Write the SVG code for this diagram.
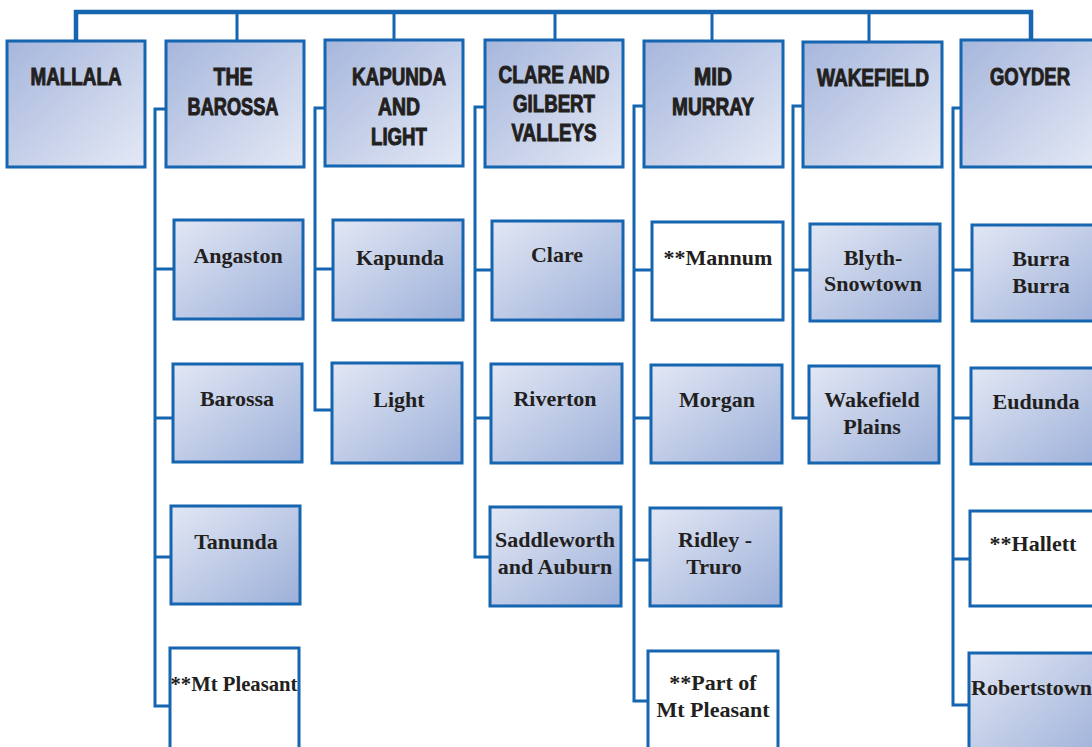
<svg xmlns="http://www.w3.org/2000/svg" width="1092" height="747" viewBox="0 0 1092 747">
<defs>
<linearGradient id="gh" x1="0" y1="0" x2="1" y2="1"><stop offset="0" stop-color="#a6b6dc"/><stop offset="1" stop-color="#e4e9f5"/></linearGradient>
<linearGradient id="gc" x1="0" y1="0" x2="1" y2="1"><stop offset="0" stop-color="#e2e7f4"/><stop offset="1" stop-color="#9db0d9"/></linearGradient>
<style>
.h{fill:url(#gh);stroke:#1565b0;stroke-width:3}
.c{fill:url(#gc);stroke:#1565b0;stroke-width:3}
.w{fill:#fff;stroke:#1565b0;stroke-width:3}
.ht{font-family:"Liberation Sans",Arial,sans-serif;font-weight:bold;font-size:24px;fill:#231f20;stroke:#231f20;stroke-width:1;text-anchor:middle}
.ct{font-family:"Liberation Serif",serif;font-weight:bold;font-size:22px;fill:#231f20;text-anchor:middle}
.ln{fill:none;stroke:#1565b0;stroke-width:3}
.tk{fill:none;stroke:#1565b0;stroke-width:4.5}
</style>
</defs>
<g id="connectors">
<path class="tk" d="M76 40 V12 H1031 V40"/>
<path class="ln" d="M237 12 V41 M394 12 V40 M555 12 V40 M712 12 V41 M869 12 V42"/>
<path class="ln" d="M166 109 H155 V706 H170 M155 269 H173 M155 418 H173 M155 557 H171"/>
<path class="ln" d="M325 108 H315 V410 H332 M315 269 H333"/>
<path class="ln" d="M485 107 H475 V557 H490 M475 270 H492 M475 418 H491"/>
<path class="ln" d="M644 106 H634 V701 H648 M634 270 H652 M634 418 H651 M634 560 H650"/>
<path class="ln" d="M803 106 H793 V418 H809 M793 270 H810"/>
<path class="ln" d="M961 108 H953 V705 H969 M953 270 H972 M953 418 H971 M953 559 H970"/>
</g>
<g id="mallala"><rect class="h" x="7" y="41" width="138" height="126"/><text class="ht" x="76" y="85" textLength="91" lengthAdjust="spacingAndGlyphs">MALLALA</text></g>
<g id="the-barossa"><rect class="h" x="166" y="41" width="138" height="126"/><text class="ht" x="233" y="85" textLength="39" lengthAdjust="spacingAndGlyphs">THE</text><text class="ht" x="233" y="115" textLength="91" lengthAdjust="spacingAndGlyphs">BAROSSA</text></g>
<g id="kapunda-and-light"><rect class="h" x="325" y="40" width="138" height="126"/><text class="ht" x="399" y="85" textLength="94" lengthAdjust="spacingAndGlyphs">KAPUNDA</text><text class="ht" x="399" y="115" textLength="42" lengthAdjust="spacingAndGlyphs">AND</text><text class="ht" x="399" y="145" textLength="56" lengthAdjust="spacingAndGlyphs">LIGHT</text></g>
<g id="clare-and-gilbert-valleys"><rect class="h" x="485" y="40" width="138" height="127"/><text class="ht" x="554" y="83" textLength="111" lengthAdjust="spacingAndGlyphs">CLARE AND</text><text class="ht" x="554" y="112" textLength="82" lengthAdjust="spacingAndGlyphs">GILBERT</text><text class="ht" x="554" y="141" textLength="85" lengthAdjust="spacingAndGlyphs">VALLEYS</text></g>
<g id="mid-murray"><rect class="h" x="644" y="41" width="139" height="126"/><text class="ht" x="713" y="85" textLength="38" lengthAdjust="spacingAndGlyphs">MID</text><text class="ht" x="713" y="115" textLength="82" lengthAdjust="spacingAndGlyphs">MURRAY</text></g>
<g id="wakefield"><rect class="h" x="803" y="42" width="139" height="125"/><text class="ht" x="873" y="86" textLength="112" lengthAdjust="spacingAndGlyphs">WAKEFIELD</text></g>
<g id="goyder"><rect class="h" x="961" y="40" width="140" height="127"/><text class="ht" x="1030" y="85" textLength="80" lengthAdjust="spacingAndGlyphs">GOYDER</text></g>

<g id="angaston"><rect class="c" x="174" y="220" width="129" height="99"/><text class="ct" x="238" y="263">Angaston</text></g>
<g id="barossa"><rect class="c" x="173" y="364" width="129" height="98"/><text class="ct" x="237" y="406">Barossa</text></g>
<g id="tanunda"><rect class="c" x="171" y="506" width="129" height="98"/><text class="ct" x="236" y="549">Tanunda</text></g>
<g id="mt-pleasant"><rect class="w" x="170" y="648" width="129" height="110"/><text class="ct" x="234" y="691" textLength="127" lengthAdjust="spacingAndGlyphs">**Mt Pleasant</text></g>

<g id="kapunda"><rect class="c" x="333" y="220" width="130" height="100"/><text class="ct" x="400" y="265">Kapunda</text></g>
<g id="light"><rect class="c" x="332" y="363" width="130" height="100"/><text class="ct" x="399" y="407">Light</text></g>

<g id="clare"><rect class="c" x="492" y="221" width="131" height="99"/><text class="ct" x="557" y="262">Clare</text></g>
<g id="riverton"><rect class="c" x="491" y="364" width="131" height="99"/><text class="ct" x="555" y="406">Riverton</text></g>
<g id="saddleworth"><rect class="c" x="490" y="507" width="131" height="99"/><text class="ct" x="555" y="547">Saddleworth</text><text class="ct" x="555" y="574">and Auburn</text></g>

<g id="mannum"><rect class="w" x="652" y="222" width="131" height="98"/><text class="ct" x="718" y="265">**Mannum</text></g>
<g id="morgan"><rect class="c" x="651" y="365" width="131" height="98"/><text class="ct" x="717" y="407">Morgan</text></g>
<g id="ridley-truro"><rect class="c" x="650" y="508" width="131" height="98"/><text class="ct" x="715" y="547">Ridley -</text><text class="ct" x="714" y="574">Truro</text></g>
<g id="part-of-mt-pleasant"><rect class="w" x="648" y="651" width="130" height="110"/><text class="ct" x="713" y="690">**Part of</text><text class="ct" x="713" y="717">Mt Pleasant</text></g>

<g id="blyth-snowtown"><rect class="c" x="810" y="224" width="130" height="97"/><text class="ct" x="873" y="265">Blyth-</text><text class="ct" x="873" y="291">Snowtown</text></g>
<g id="wakefield-plains"><rect class="c" x="809" y="366" width="130" height="97"/><text class="ct" x="872" y="407">Wakefield</text><text class="ct" x="872" y="434">Plains</text></g>

<g id="burra-burra"><rect class="c" x="972" y="225" width="130" height="96"/><text class="ct" x="1041" y="266">Burra</text><text class="ct" x="1041" y="293">Burra</text></g>
<g id="eudunda"><rect class="c" x="971" y="368" width="130" height="96"/><text class="ct" x="1036" y="409">Eudunda</text></g>
<g id="hallett"><rect class="w" x="970" y="511" width="130" height="95"/><text class="ct" x="1033" y="551">**Hallett</text></g>
<g id="robertstown"><rect class="c" x="969" y="653" width="130" height="110"/><text class="ct" x="971" y="695" style="text-anchor:start">Robertstown</text></g>
</svg>
